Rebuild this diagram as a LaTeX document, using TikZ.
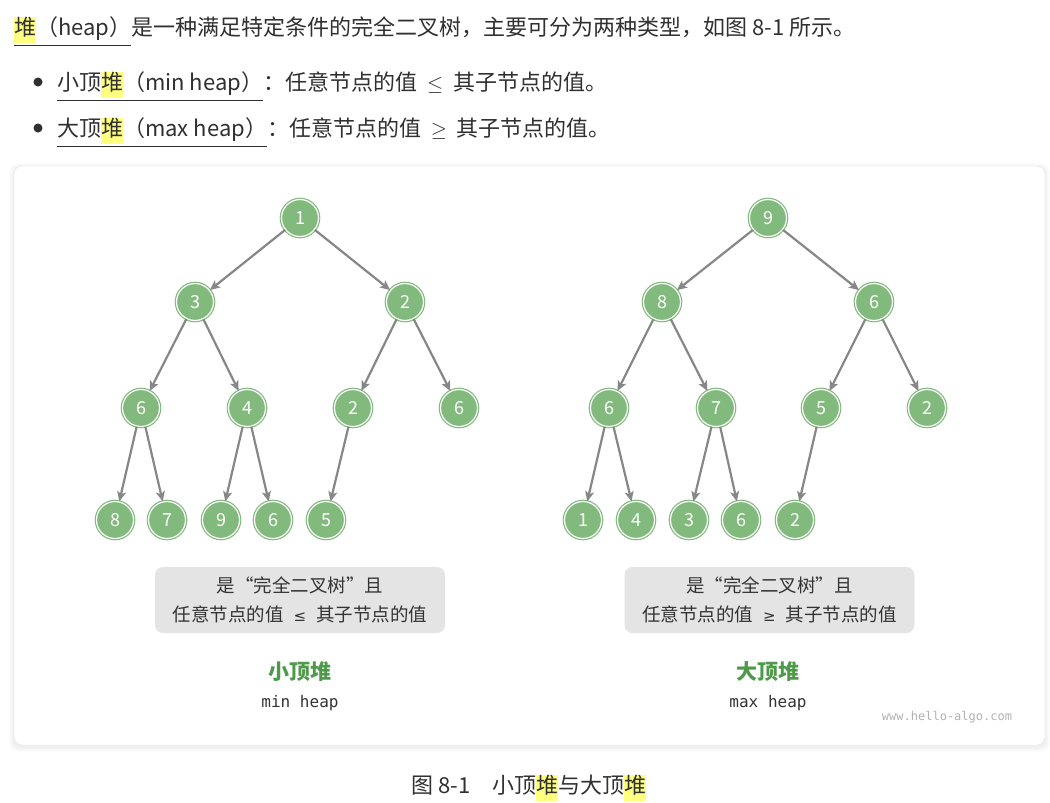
\documentclass[tikz,border=0pt]{standalone}
\usepackage{fontspec}
\usepackage{amsmath}
\setmainfont{Noto Sans CJK SC}
\newfontfamily\codefont{DejaVu Sans Mono}
\newfontfamily\symfont{DejaVu Sans}
\usetikzlibrary{arrows.meta}

\definecolor{heapgreen}{HTML}{82BA7E}
\definecolor{namegreen}{HTML}{4E9A4A}
\definecolor{edgegray}{HTML}{878787}
\definecolor{boxgray}{HTML}{E4E4E4}
\definecolor{bodytext}{HTML}{303030}
\definecolor{hlyellow}{HTML}{FFFF80}

\setlength{\fboxsep}{0pt}
\newcommand{\hl}[1]{\colorbox{hlyellow}{\strut #1}}

\begin{document}
\begin{tikzpicture}[x=1pt,y=-1pt,
    heapnode/.style={circle,minimum size=37pt,inner sep=0pt,fill=heapgreen,draw=white,line width=1.2pt,
        preaction={draw=heapgreen,line width=3.6pt},text=white,font=\fontsize{18}{18}\selectfont},
    edge/.style={-{Stealth[length=10pt,width=9pt,inset=2.5pt]},draw=edgegray,line width=2.2pt},
    notebox/.style={fill=boxgray,rounded corners=8pt,minimum width=290pt,minimum height=66pt,
        align=center,text=black!80,font=\fontsize{18.5}{29}\selectfont},
    heapname/.style={text=namegreen,font=\fontsize{21}{21}\selectfont\bfseries},
    heapsub/.style={text=black!80,font=\fontsize{16}{16}\selectfont\codefont},
    bodyline/.style={anchor=base west,inner sep=0pt,text=bodytext,font=\fontsize{22}{26}\selectfont}]
    \useasboundingbox (0,0) rectangle (1050,803);
    \fill[white] (0,0) rectangle (1050,803);

    % intro text
    \node[bodyline] (intro) at (14,35) {\underline{\hl{堆}（heap）}是一种满足特定条件的完全二叉树，主要可分为两种类型，如图 8-1 所示。};
    \fill[bodytext] (38,82) circle (4.5);
    \node[bodyline] (minline) at (57,90) {\underline{小顶\hl{堆}（min heap）}：任意节点的值\hspace{0.45em}$\leq$\hspace{0.45em}其子节点的值。};
    \fill[bodytext] (38,128) circle (4.5);
    \node[bodyline] (maxline) at (57,136) {\underline{大顶\hl{堆}（max heap）}：任意节点的值\hspace{0.45em}$\geq$\hspace{0.45em}其子节点的值。};

    % panel
    \foreach \s in {1,...,5}
        \fill[black,opacity=0.012,rounded corners=9pt] (14-\s,166-\s+2) rectangle (1045+\s,745+\s+2);
    \draw[black!10,fill=white,rounded corners=8pt] (14,166) rectangle (1045,745);

    % min heap
    \node[heapnode] (mn1) at (300,218) {1};
    \node[heapnode] (mn2) at (195,302) {3};
    \node[heapnode] (mn3) at (405,302) {2};
    \node[heapnode] (mn4) at (141,408) {6};
    \node[heapnode] (mn5) at (247,408) {4};
    \node[heapnode] (mn6) at (353,408) {2};
    \node[heapnode] (mn7) at (459,408) {6};
    \node[heapnode] (mn8) at (115,520) {8};
    \node[heapnode] (mn9) at (167,520) {7};
    \node[heapnode] (mn10) at (221,520) {9};
    \node[heapnode] (mn11) at (273,520) {6};
    \node[heapnode] (mn12) at (326,520) {5};

    % max heap
    \node[heapnode] (mx1) at (768,218) {9};
    \node[heapnode] (mx2) at (662,302) {8};
    \node[heapnode] (mx3) at (874,302) {6};
    \node[heapnode] (mx4) at (609,408) {6};
    \node[heapnode] (mx5) at (716,408) {7};
    \node[heapnode] (mx6) at (821,408) {5};
    \node[heapnode] (mx7) at (927,408) {2};
    \node[heapnode] (mx8) at (583,520) {1};
    \node[heapnode] (mx9) at (636,520) {4};
    \node[heapnode] (mx10) at (689,520) {3};
    \node[heapnode] (mx11) at (741,520) {6};
    \node[heapnode] (mx12) at (795,520) {2};

    \foreach \p/\c in {1/2,1/3,2/4,2/5,3/6,3/7,4/8,4/9,5/10,5/11,6/12}{
        \draw[edge] (mn\p) -- (mn\c);
        \draw[edge] (mx\p) -- (mx\c);
    }

    % notes and names
    \node[notebox] (minnote) at (300,600) {是“完全二叉树”且\\任意节点的值\hspace{0.55em}{\symfont\fontsize{15}{15}\selectfont ≤}\hspace{0.55em}其子节点的值};
    \node[notebox] (maxnote) at (769.5,600) {是“完全二叉树”且\\任意节点的值\hspace{0.55em}{\symfont\fontsize{15}{15}\selectfont ≥}\hspace{0.55em}其子节点的值};
    \node[heapname] (minname) at (300,672) {小顶堆};
    \node[heapsub] (minsub) at (300,703) {min heap};
    \node[heapname] (maxname) at (768,672) {大顶堆};
    \node[heapsub] (maxsub) at (768,703) {max heap};
    \node[text=black!30,font=\fontsize{12}{12}\selectfont\codefont] (site) at (947,717) {www.hello-algo.com};

    % caption
    \node[anchor=base,inner sep=0pt,text=bodytext,font=\fontsize{22}{26}\selectfont] (caption) at (529,793) {图 8-1\quad 小顶\hl{堆}与大顶\hl{堆}};
\end{tikzpicture}
\end{document}
